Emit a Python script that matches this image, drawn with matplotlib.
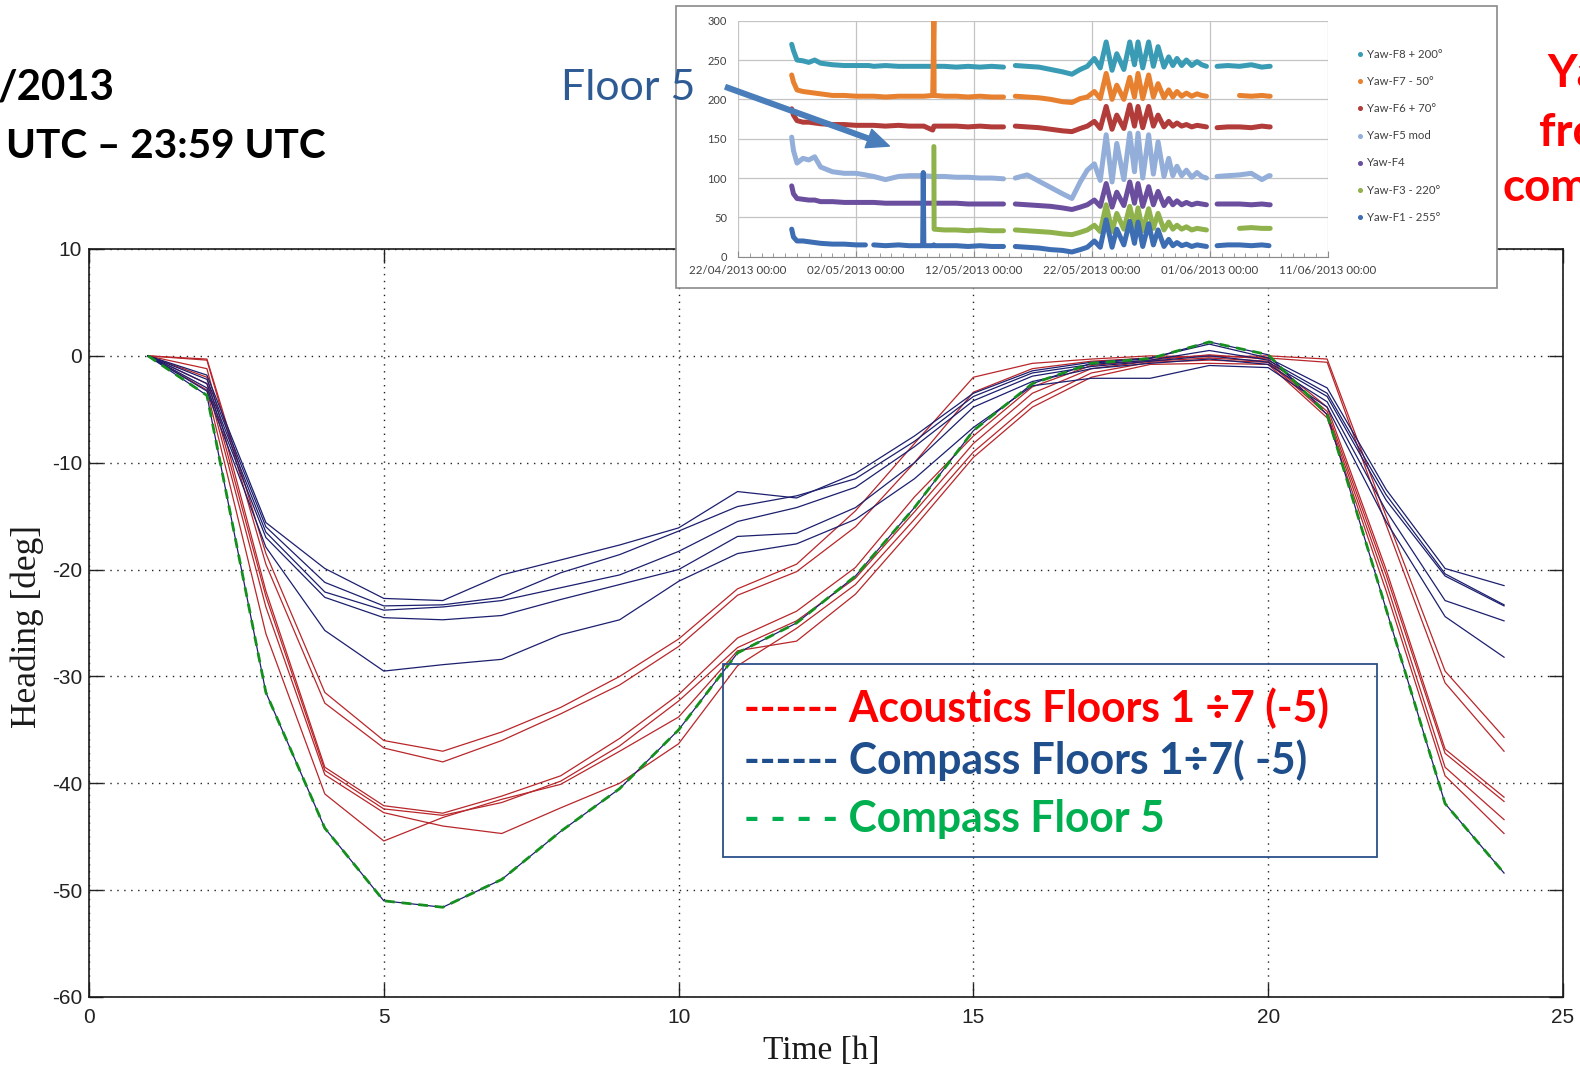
import numpy as np
import matplotlib
matplotlib.use("Agg")
import matplotlib.pyplot as plt
from matplotlib.patches import Rectangle, FancyArrowPatch
from matplotlib.lines import Line2D

plt.rcParams["axes.unicode_minus"] = False

W, H = 1580, 1073

# ---------------- main chart: daily heading, one value per hour ----------------
hours = list(range(1, 25))

acoustic_headings = {
    "A1": [0, -0.3, -18.5, -31.5, -36.0, -37.0, -35.2, -32.9, -30.0, -26.5, -21.8, -19.5,
           -14.5, -8.2, -2.0, -0.7, -0.3, 0.0, -0.1, 0.0, -0.3, -15.0, -29.5, -35.7],
    "A2": [0, -0.4, -19.5, -32.5, -36.7, -38.0, -36.0, -33.5, -30.8, -27.2, -22.4, -20.2,
           -16.0, -10.0, -3.4, -1.2, -0.5, -0.2, 0.0, -0.2, -0.6, -15.8, -30.6, -37.0],
    "A3": [0, -1.2, -22.0, -38.5, -42.1, -42.8, -41.2, -39.3, -35.8, -31.7, -26.4, -23.9,
           -19.8, -13.2, -7.5, -2.9, -0.9, -0.4, 0.1, -0.3, -4.8, -20.0, -36.8, -41.3],
    "A4": [0, -2.0, -22.5, -38.8, -42.4, -43.0, -41.8, -39.8, -36.5, -32.3, -27.3, -24.8,
           -20.8, -14.6, -8.2, -3.5, -1.2, -0.5, -0.2, -0.5, -5.2, -20.5, -37.2, -41.7],
    "A5": [0, -2.6, -23.5, -39.2, -42.75, -44.0, -44.7, -42.3, -40.0, -36.3, -29.0, -25.5,
           -21.4, -15.3, -9.0, -4.3, -1.6, -0.6, -0.4, -0.6, -5.5, -21.2, -38.5, -43.4],
    "A6": [0, -3.2, -26.0, -41.0, -45.4, -43.2, -41.5, -40.1, -37.0, -33.8, -27.6, -26.7,
           -22.3, -16.0, -9.5, -4.8, -2.0, -0.8, -0.7, -0.8, -5.8, -22.0, -39.3, -44.7],
}

compass_headings = {
    "C1": [0, -1.8, -15.6, -19.9, -22.7, -22.9, -20.5, -19.1, -17.7, -16.1, -12.7, -13.3,
           -11.0, -7.5, -3.5, -1.4, -0.6, -0.2, 1.1, -0.2, -3.0, -12.5, -19.9, -21.5],
    "C2": [0, -2.2, -16.0, -21.2, -23.4, -23.3, -22.6, -20.3, -18.6, -16.4, -14.1, -13.1,
           -11.5, -8.0, -3.8, -1.6, -0.8, -0.4, 0.5, -0.4, -3.5, -13.0, -20.4, -23.3],
    "C3": [0, -2.6, -16.5, -22.1, -23.8, -23.5, -22.9, -21.7, -20.5, -18.3, -15.5, -14.2,
           -12.3, -8.5, -4.2, -1.9, -1.0, -0.5, 0.0, -0.6, -3.8, -13.5, -20.6, -23.4],
    "C4": [0, -3.0, -17.0, -22.6, -24.5, -24.7, -24.3, -22.8, -21.4, -20.0, -16.9, -16.6,
           -14.2, -10.0, -4.8, -2.4, -1.2, -0.7, -0.3, -0.8, -4.3, -14.5, -22.9, -24.8],
    "C5": [0, -3.3, -17.9, -25.7, -29.5, -28.9, -28.4, -26.1, -24.7, -21.1, -18.5, -17.6,
           -15.3, -11.5, -6.7, -2.8, -2.1, -2.1, -0.9, -1.1, -4.8, -15.5, -24.4, -28.2],
}

compass_floor5 = [0, -3.7, -31.5, -44.2, -51.0, -51.6, -49.0, -44.5, -40.5, -35.0, -27.8, -25.0,
                  -20.6, -14.2, -7.0, -2.6, -0.7, -0.25, 1.3, 0.1, -5.5, -23.7, -41.9, -48.4]

x_ticks = [0, 5, 10, 15, 20, 25]
y_ticks = [-60, -50, -40, -30, -20, -10, 0, 10]

# ---------------- inset: yaw time series (days after 22/04/2013 00:00) ----------------
days_a = [4.55, 4.7, 5.0, 5.5, 6.0, 6.5, 7.0, 8.0, 9.0, 10.0, 10.8, 11.1, 11.5, 12.5,
          13.6, 14.5, 15.65, 15.7, 15.75, 16.5, 16.6, 16.62, 17.5, 18.5, 19.5, 20.5, 21.5, 22.5]
days_b = [23.5, 24.5, 25.5, 26.5, 27.5, 28.3, 29.0, 29.6, 30.2, 30.7, 31.2, 31.7, 32.1,
          32.7, 33.2, 33.6, 33.9, 34.3, 34.8, 35.2, 35.6, 36.1, 36.5, 36.85, 37.2, 37.6,
          38.0, 38.45, 38.9, 39.3, 39.7]
days_c = [40.6, 41.5, 42.5, 43.5, 44.4, 45.0, 45.1]
nan = np.nan

yaw_f8_a = [270, 262, 250, 249, 247, 250, 246, 244, 243, 243, 243, 243, 242, 243,
            242, 242, 242, 242, 242, 242, 242, 242, 242, 241, 242, 241, 242, 241]
yaw_f8_b = [243, 242, 241, 238, 235, 232, 238, 242, 252, 240, 273, 237, 258, 238, 273, 244,
            273, 240, 273, 242, 267, 241, 254, 243, 252, 243, 250, 243, 248, 244, 242]
yaw_f8_c = [242, 243, 242, 244, 241, 242, 242]

yaw_f7_a = [231, 222, 212, 210, 209, 208, 207, 205, 205, 204, 204, 204, 204, 203,
            204, 204, 204, 204, 204, 205, 300, 205, 204, 204, 203, 204, 203, 203]
yaw_f7_b = [204, 203, 202, 200, 197, 196, 201, 203, 210, 201, 233, 200, 218, 200, 228, 203,
            233, 201, 231, 203, 220, 202, 212, 203, 210, 204, 208, 204, 207, 205, 204]
yaw_f7_c = [nan, nan, 205, 204, 205, 204, 204]

yaw_f6_a = [188, 180, 173, 171, 171, 170, 169, 168, 168, 167, 167, 167, 167, 166,
            167, 166, 166, 166, 166, 161, 166, 166, 166, 166, 165, 166, 165, 165]
yaw_f6_b = [166, 165, 164, 162, 160, 159, 163, 166, 172, 163, 191, 162, 180, 163, 193, 166,
            191, 164, 191, 166, 180, 165, 172, 166, 170, 166, 168, 165, 167, 166, 165]
yaw_f6_c = [164, 165, 165, 164, 166, 165, 165]

yaw_f5_a = [152, 135, 119, 125, 123, 127, 114, 108, 106, 106, 104, 103, 102, 98,
            102, 103, 103, 103, 103, 102, 103, 102, 102, 101, 101, 100, 100, 99]
yaw_f5_b = [100, 104, 96, 88, 80, 74, 95, 110, 118, 97, 155, 95, 144, 98, 157, 108,
            157, 100, 155, 105, 146, 102, 125, 103, 115, 103, 110, 101, 107, 102, 100]
yaw_f5_c = [102, 103, 104, 106, 98, 103, 103]

yaw_f4_a = [90, 80, 74, 73, 72, 72, 70, 70, 69, 69, 69, 69, 69, 68,
            68, 68, 68, 68, 68, 68, 68, 68, 68, 68, 67, 67, 67, 67]
yaw_f4_b = [67, 66, 65, 64, 62, 60, 63, 66, 72, 64, 93, 63, 82, 65, 95, 68,
            93, 64, 89, 66, 83, 65, 74, 66, 71, 66, 69, 66, 68, 67, 66]
yaw_f4_c = [67, 67, 67, 66, 67, 66, 66]

yaw_f3_a = [nan] * 20 + [140, 35, 34, 34, 33, 34, 33, 33]
yaw_f3_b = [34, 33, 32, 31, 29, 28, 31, 34, 40, 32, 66, 32, 55, 35, 64, 38,
            62, 33, 61, 36, 55, 34, 44, 35, 40, 35, 38, 34, 36, 35, 34]
yaw_f3_c = [nan, nan, 36, 37, 36, 36, 36]

yaw_f1_a = [35, 25, 20, 20, 19, 18, 17, 16, 16, 15, 15, nan, 15, 14,
            15, 14, 14, 107, 14, 14, 15, 14, 14, 14, 13, 14, 13, 13]
yaw_f1_b = [13, 12, 11, 9, 8, 6, 9, 12, 20, 12, 47, 12, 35, 15, 45, 17,
            44, 13, 42, 15, 34, 13, 22, 14, 18, 14, 16, 13, 15, 14, 13]
yaw_f1_c = [14, 15, 15, 14, 15, 14, nan]

inset_labels = ["Yaw-F8 + 200°", "Yaw-F7 - 50°", "Yaw-F6 + 70°", "Yaw-F5 mod",
                "Yaw-F4", "Yaw-F3 - 220°", "Yaw-F1 - 255°"]
inset_colors = ["#3a9bb5", "#e8812f", "#b23c39", "#93aed8", "#6b4f9e", "#8fb24c", "#3d6db2"]
inset_series = [
    (yaw_f8_a, yaw_f8_b, yaw_f8_c), (yaw_f7_a, yaw_f7_b, yaw_f7_c),
    (yaw_f6_a, yaw_f6_b, yaw_f6_c), (yaw_f5_a, yaw_f5_b, yaw_f5_c),
    (yaw_f4_a, yaw_f4_b, yaw_f4_c), (yaw_f3_a, yaw_f3_b, yaw_f3_c),
    (yaw_f1_a, yaw_f1_b, yaw_f1_c),
]
inset_xticks = [0, 10, 20, 30, 40, 50]
inset_xlabels = ["22/04/2013 00:00", "02/05/2013 00:00", "12/05/2013 00:00",
                 "22/05/2013 00:00", "01/06/2013 00:00", "11/06/2013 00:00"]
inset_yticks = [0, 50, 100, 150, 200, 250, 300]

legend_lines = ["------ Acoustics Floors 1 ÷7 (-5)",
                "------ Compass Floors 1÷7( -5)",
                "- - - - Compass Floor 5"]
legend_colors = ["#ff0000", "#1f4e8c", "#00b050"]


def fx(x):
    return x / W


def fy(y):
    return 1 - y / H


fig = plt.figure(figsize=(W / 100, H / 100), dpi=100)
fig.patch.set_facecolor("white")

# ---------------- main axes ----------------
ax = fig.add_axes([fx(89), fy(997), (1563 - 89) / W, (997 - 249) / H])
red_c = "#b8262a"
navy_c = "#1c1f6e"
for vals in acoustic_headings.values():
    ax.plot(hours, vals, color=red_c, lw=0.9, zorder=3)
for vals in compass_headings.values():
    ax.plot(hours, vals, color=navy_c, lw=0.9, zorder=4)
ax.plot(hours, compass_floor5, color=navy_c, lw=0.9, zorder=5)
ax.plot(hours, compass_floor5, color="#15901f", lw=2.0, ls=(0, (3.5, 2.5)), zorder=6)

ax.set_xlim(0, 25)
ax.set_ylim(-60, 10)
ax.set_xticks(x_ticks)
ax.set_yticks(y_ticks)
ax.grid(True, color="#222222", lw=1.0, ls=(0, (1, 4)))
ax.tick_params(direction="in", length=10, width=1.0, top=True, right=True,
               labelsize=15, labelcolor="#222222", color="#222222")
ax.tick_params(axis="x", pad=8)
ax.tick_params(axis="y", pad=5)
for lab in ax.get_xticklabels() + ax.get_yticklabels():
    lab.set_fontfamily("Liberation Sans")
for sp in ax.spines.values():
    sp.set_linewidth(1.2)
    sp.set_color("#1a1a1a")

fig.text(fx(821), fy(1051), "Time [h]", ha="center", va="center",
         fontsize=24, family="Liberation Serif", color="#1a1a1a")
fig.text(fx(27), fy(626), "Heading [deg]", ha="center", va="center", rotation=90,
         fontsize=25.5, family="Liberation Serif", color="#1a1a1a")

# legend box with coloured text lines
fig.patches.append(Rectangle((fx(723), fy(857)), (1377 - 723) / W, (857 - 664) / H,
                             transform=fig.transFigure, facecolor="none",
                             edgecolor="#2a4f8a", lw=1.3, zorder=7))
leg_texts = []
for txt, col, base in zip(legend_lines, legend_colors, [722, 774, 832]):
    leg_texts.append(fig.text(fx(744), fy(base), txt, color=col, fontsize=28,
                              family="Lato", weight="bold", va="baseline", zorder=8))

# ---------------- inset frame and axes ----------------
fig.patches.append(Rectangle((fx(676), fy(288)), (1497 - 676) / W, (288 - 6) / H,
                             transform=fig.transFigure, facecolor="white",
                             edgecolor="#8a8a8a", lw=1.2, zorder=5))
ins = fig.add_axes([fx(738), fy(256.7), 590 / W, 236 / H])
ins.set_zorder(6)
ins.patch.set_alpha(0)
for (a, b, c), col in zip(inset_series, inset_colors):
    t = days_a + [23.0] + days_b + [40.2] + days_c
    v = list(a) + [nan] + list(b) + [nan] + list(c)
    ins.plot(t, v, color=col, lw=3.6, solid_capstyle="round", solid_joinstyle="round")
ins.set_xlim(0, 50)
ins.set_ylim(0, 300)
ins.set_xticks(inset_xticks)
ins.set_xticklabels(inset_xlabels)
ins.set_xticks(np.arange(0, 51, 1), minor=True)
ins.set_yticks(inset_yticks)
ins.grid(True, which="major", color="#c4c4c4", lw=0.9)
ins.set_axisbelow(True)
for s in ["top", "right", "left"]:
    ins.spines[s].set_visible(False)
ins.spines["bottom"].set_color("#8a8a8a")
ins.tick_params(axis="y", length=0, pad=8, labelsize=8.0, labelcolor="#404040")
ins.tick_params(axis="x", which="major", direction="in", length=4, color="#8a8a8a",
                pad=6, labelsize=8.3, labelcolor="#404040")
ins.tick_params(axis="x", which="minor", direction="in", length=3, color="#8a8a8a")
for lab in ins.get_xticklabels() + ins.get_yticklabels():
    lab.set_fontfamily("Lato")

for i, (lab, col) in enumerate(zip(inset_labels, inset_colors)):
    yy = 54 + i * 27.2
    fig.add_artist(Line2D([fx(1360)], [fy(yy)], transform=fig.transFigure, marker="o",
                          ms=2.6, color=col, ls="", zorder=9))
    fig.text(fx(1367), fy(yy), lab, fontsize=8.2, family="Lato", color="#404040",
             va="center", zorder=9)

# ---------------- slide annotations ----------------
t_date = fig.text(fx(-2), fy(100), "/2013", fontsize=31, family="Lato", weight="bold",
                  color="black", va="baseline")
t_time = fig.text(fx(6.5), fy(158), "UTC – 23:59 UTC", fontsize=29, family="Lato",
                  weight="bold", color="black", va="baseline")
t_floor = fig.text(fx(561), fy(100), "Floor 5", fontsize=30, family="Lato",
                   color="#2f5b94", va="baseline", zorder=8)
for s, xl, yb in [("Ya", 1547, 87), ("fro", 1539, 146), ("com", 1502, 201)]:
    fig.text(fx(xl), fy(yb), s, fontsize=33, family="Lato", weight="bold",
             color="#ff0000", va="baseline")

arrow = FancyArrowPatch(posA=(fx(723), fy(86)), posB=(fx(892), fy(147)),
                        transform=fig.transFigure, mutation_scale=1,
                        arrowstyle="simple,head_length=16,head_width=14,tail_width=3.4",
                        color="#4a7ebb", zorder=9)
fig.patches.append(arrow)

# size the slide texts to their set widths
fig.canvas.draw()
rend = fig.canvas.get_renderer()


def fit_width(txt, target):
    w = txt.get_window_extent(rend).width
    txt.set_fontsize(txt.get_fontsize() * target / w)


fit_width(t_date, 117)
fit_width(t_time, 320)
fit_width(t_floor, 134)
fit_width(leg_texts[0], 588)
for t in leg_texts[1:]:
    t.set_fontsize(leg_texts[0].get_fontsize())

fig.savefig("out.png", dpi=100)
